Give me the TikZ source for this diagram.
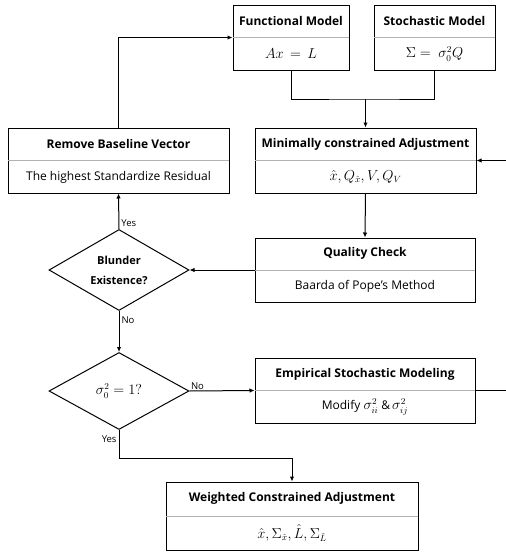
\documentclass[tikz,border=0pt]{standalone}
\usepackage{amsmath}
\usepackage{fontspec}
\setmainfont{Open Sans}
\usetikzlibrary{calc,shapes.geometric,arrows.meta}
\tikzset{
% Boxes with a title part and a result part
model box/.style={rectangle,draw,line width=1pt,inner sep=0},
split line/.style={draw=black!30,line width=1pt},
box title/.style={font=\fontsize{12}{15}\selectfont\bfseries},
box body/.style={font=\fontsize{12}{15}\selectfont},
% Decisions and flow lines
decision/.style={diamond,draw,line width=1pt,inner sep=0,aspect=1.75,align=center,font=\fontsize{11}{14}\selectfont\bfseries},
flow/.style={line width=1pt,-{Latex[length=5pt,width=4.5pt]}},
link/.style={line width=1pt},
answer/.style={font=\fontsize{9.5}{11}\selectfont,inner sep=2pt}
}
% name, centre, width, height, title, result
\newcommand{\modelbox}[6]{%
\node[model box,minimum width=#3,minimum height=#4](#1) at (#2){};
\draw[split line,shorten <=0.5pt,shorten >=0.5pt](#1.west)--(#1.east);
\node[box title](#1-t) at ($(#1.center)!0.5!(#1.north)$){#5};
\node[box body](#1-b) at ($(#1.center)!0.5!(#1.south)$){#6};
}
% results are set a little larger
\newcommand{\res}[1]{{\fontsize{13.5}{16}\selectfont$#1$}}

\begin{document}
\begin{tikzpicture}[x=1pt,y=-1pt]
\useasboundingbox (0,0) rectangle (506,555);
% The boxes
\modelbox{fm}{291,37.5}{116pt}{65pt}{Functional Model}{\res{Ax\,=\,L}}
\modelbox{sm}{434.5,37.5}{121pt}{65pt}{Stochastic Model}{\res{\Sigma=\ \sigma_0^2Q}}
\modelbox{mca}{365.5,160.5}{221pt}{65pt}{Minimally constrained Adjustment}{\res{\hat{x},Q_{\hat{x}},V,Q_V}}
\modelbox{rm}{118.5,160.5}{221pt}{65pt}{Remove Baseline Vector}{The highest Standardize Residual}
\modelbox{qc}{365,270}{220pt}{64pt}{Quality Check}{Baarda of Pope's Method}
\modelbox{esm}{365,390.5}{220pt}{65pt}{Empirical Stochastic Modeling}{Modify \res{\sigma_{ii}^2} \&\,\res{\sigma_{ij}^2}}
\modelbox{wca}{292,516}{252pt}{68pt}{Weighted Constrained Adjustment}{\res{\hat{x},\Sigma_{\hat{x}},\hat{L},\Sigma_{\hat{L}}}}
% The decisions
\node[decision,minimum width=140pt,minimum height=81pt](bd) at (119,270){Blunder\\[6pt]Existence?};
\node[decision,minimum width=140pt,minimum height=77pt](sd) at (119,391){\res{\sigma_0^2=1?}};
% Flow
\coordinate(join) at (mca.north |- 0,99);
\draw[link](fm.south)|-(join)-|(sm.south);
\draw[flow](join)--(mca.north);
\coordinate(back in) at (506,160.5);
\draw[flow](back in)--(mca.east);
\draw[flow](mca.south)--(qc.north);
\draw[flow](qc.west)--(bd.east);
\draw[flow](bd.north)--node[answer,pos=0.17,right]{Yes}(rm.south);
\draw[flow](rm.north)|-(fm.west);
\draw[flow](bd.south)--node[answer,pos=0.22,right]{No}(sd.north);
\draw[flow](sd.east)--node[answer,pos=0,above right,inner sep=1pt]{No}(esm.west);
\coordinate(back out) at (506,390.5);
\draw[link](esm.east)--(back out);
\coordinate(turn) at (sd.south |- 0,458);
\draw[flow](sd.south)--node[answer,pos=0.31,left]{Yes}(turn)-|(wca.north);
\end{tikzpicture}
\end{document}
